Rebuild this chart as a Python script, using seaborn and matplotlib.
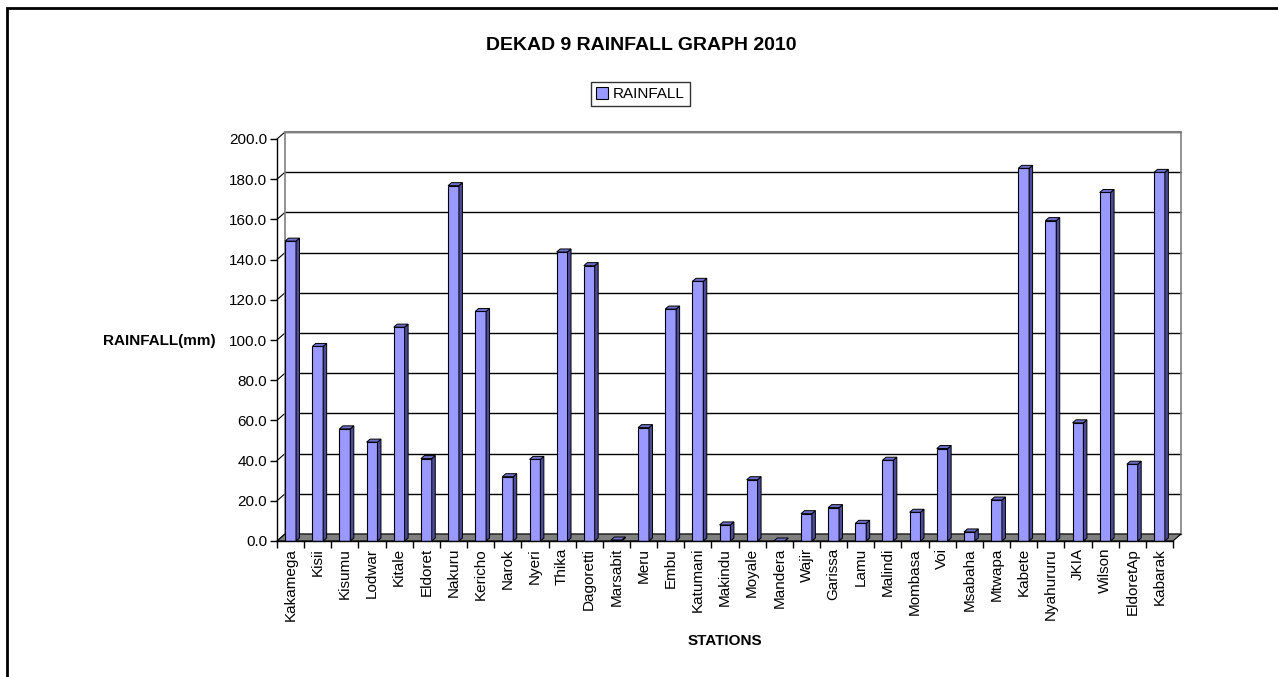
import matplotlib
matplotlib.use('Agg')
import matplotlib.pyplot as plt
from matplotlib.patches import Polygon, Patch, Rectangle
import seaborn as sns
import pandas as pd

stations = ['Kakamega', 'Kisii', 'Kisumu', 'Lodwar', 'Kitale', 'Eldoret', 'Nakuru',
            'Kericho', 'Narok', 'Nyeri', 'Thika', 'Dagoretti', 'Marsabit', 'Meru',
            'Embu', 'Katumani', 'Makindu', 'Moyale', 'Mandera', 'Wajir', 'Garissa',
            'Lamu', 'Malindi', 'Mombasa', 'Voi', 'Msabaha', 'Mtwapa', 'Kabete',
            'Nyahururu', 'JKIA', 'Wilson', 'EldoretAp', 'Kabarak']
rainfall = [149.2, 96.8, 55.8, 49.2, 106.4, 41.0, 176.8,
            114.2, 32.0, 40.6, 143.8, 137.0, 0.5, 56.4,
            115.4, 129.2, 8.0, 30.5, 0.0, 13.6, 16.6,
            8.8, 40.2, 14.3, 46.0, 4.5, 20.4, 185.4,
            159.4, 58.8, 173.4, 38.2, 183.4]
yticks = [0, 20, 40, 60, 80, 100, 120, 140, 160, 180, 200]

df = pd.DataFrame({'station': stations, 'rainfall': rainfall})

sns.set_style('white')
plt.rcParams['font.family'] = ['Liberation Sans', 'DejaVu Sans']
plt.rcParams['text.color'] = 'black'
plt.rcParams['xtick.color'] = 'black'
plt.rcParams['ytick.color'] = 'black'
plt.rcParams['axes.labelcolor'] = 'black'

W, H = 1278, 677
fig = plt.figure(figsize=(W / 100, H / 100), dpi=100)
ax_l, ax_b, ax_w, ax_h = 277 / W, 1 - 541 / H, 896 / W, 402 / H
ax = fig.add_axes([ax_l, ax_b, ax_w, ax_h])

bar_color = '#9999FF'
sns.barplot(data=df, x='station', y='rainfall', color=bar_color, saturation=1,
            width=0.4, edgecolor='black', linewidth=0.8, ax=ax, zorder=3)

n = len(stations)
ax.set_xlim(-0.5, n - 0.5)
ax.set_ylim(0, 200)

# pixel -> data conversion for the fake 3D depth
px_x = (ax_w * W) / n
px_y = (ax_h * H) / 200
dx, dy = 8 / px_x, 7 / px_y
bdx, bdy = 3.5 / px_x, 3 / px_y

# back wall gridlines and edges
for v in yticks:
    ax.plot([-0.5 + dx, n - 0.5 + dx], [v + dy, v + dy], color='black', lw=1.0,
            zorder=0, clip_on=False)
    ax.plot([-0.5, -0.5 + dx], [v, v + dy], color='black', lw=0.8,
            zorder=0, clip_on=False)
ax.plot([-0.5 + dx, -0.5 + dx], [dy, 200 + dy], color='#808080', lw=1.2, zorder=0, clip_on=False)
ax.plot([n - 0.5 + dx, n - 0.5 + dx], [dy, 200 + dy], color='#808080', lw=1.2, zorder=0, clip_on=False)
ax.plot([-0.5 + dx, n - 0.5 + dx], [200 + dy, 200 + dy], color='#808080', lw=1.5, zorder=0, clip_on=False)

# floor
floor = Polygon([(-0.5, 0), (n - 0.5, 0), (n - 0.5 + dx, dy), (-0.5 + dx, dy)],
                closed=True, facecolor='#808080', edgecolor='black', lw=0.8,
                zorder=1, clip_on=False)
ax.add_patch(floor)

# bar sides and tops
for p in list(ax.patches):
    if p is floor:
        continue
    x0, w, h = p.get_x(), p.get_width(), p.get_height()
    side = Polygon([(x0 + w, 0), (x0 + w + bdx, bdy), (x0 + w + bdx, h + bdy), (x0 + w, h)],
                   closed=True, facecolor='#4B4B99', edgecolor='black', lw=0.7,
                   zorder=3, clip_on=False)
    top = Polygon([(x0, h), (x0 + w, h), (x0 + w + bdx, h + bdy), (x0 + bdx, h + bdy)],
                  closed=True, facecolor='#6F6FCC', edgecolor='black', lw=0.7,
                  zorder=3, clip_on=False)
    ax.add_patch(side)
    ax.add_patch(top)

# axes styling
for s in ['top', 'right']:
    ax.spines[s].set_visible(False)
for s in ['left', 'bottom']:
    ax.spines[s].set_color('black')
    ax.spines[s].set_linewidth(1.0)
    ax.spines[s].set_zorder(4)

ax.set_yticks(yticks)
ax.set_yticklabels([f'{v:.1f}' for v in yticks], fontsize=11)
ax.tick_params(axis='y', direction='out', length=5, width=1, colors='black', pad=2,
               left=True)
ax.set_xticks(range(n))
ax.set_xticklabels(stations, rotation=90, fontsize=11)
ax.tick_params(axis='x', which='major', length=0, pad=5, colors='black')
ax.set_xticks([i - 0.5 for i in range(n + 1)], minor=True)
ax.tick_params(axis='x', which='minor', direction='out', length=5, width=1,
               color='black', bottom=True)
ax.set_xlabel('')
ax.set_ylabel('')
ax.grid(False)

fig.text(724.5 / W, 1 - 641 / H, 'STATIONS', fontsize=11, fontweight='bold',
         ha='center', va='center', color='black')
fig.text(103 / W, 1 - 341 / H, 'RAINFALL(mm)', fontsize=11, fontweight='bold',
         ha='left', va='center', color='black')
fig.text(641 / W, 1 - 46 / H, 'DEKAD 9 RAINFALL GRAPH 2010', fontsize=14,
         fontweight='bold', ha='center', va='center', color='black')

handle = Patch(facecolor=bar_color, edgecolor='black', lw=0.8)
leg = fig.legend([handle], ['RAINFALL'], loc='center',
                 bbox_to_anchor=(640.5 / W, 1 - 94 / H), fontsize=11,
                 frameon=True, fancybox=False, handlelength=0.8, handleheight=0.8,
                 handletextpad=0.3, borderpad=0.35, borderaxespad=0)
leg.get_frame().set_edgecolor('black')
leg.get_frame().set_linewidth(1.0)
for t in leg.get_texts():
    t.set_color('black')

fig.patches.append(Rectangle((7 / W, -0.05), 1.2, 1 - 7.5 / H + 0.05,
                             transform=fig.transFigure, fill=False,
                             edgecolor='black', lw=2.0))

fig.savefig('out.png', dpi=100)
